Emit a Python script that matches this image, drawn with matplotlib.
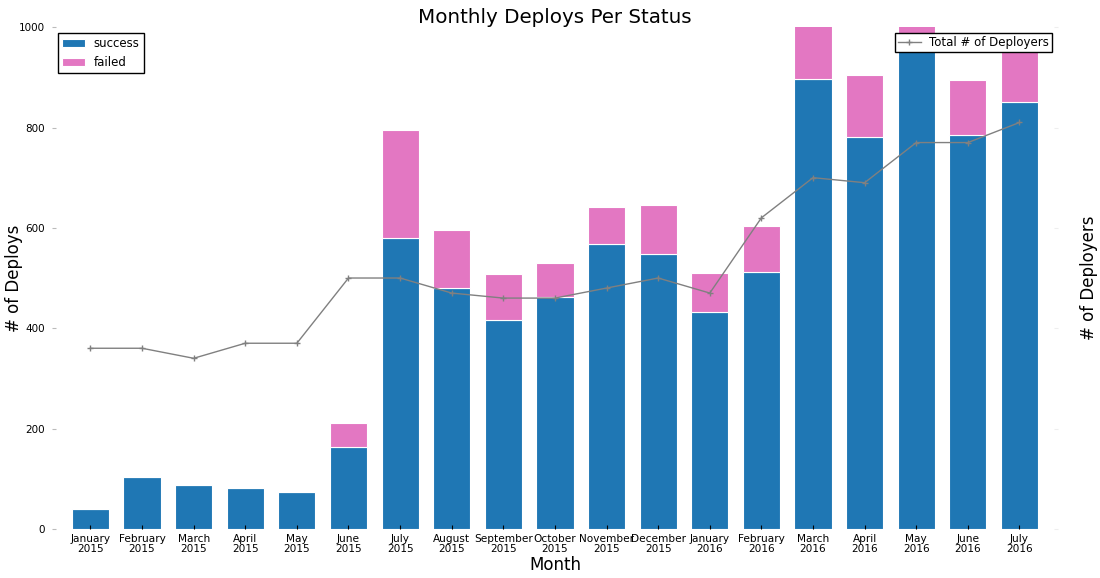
import matplotlib
matplotlib.use("Agg")
import matplotlib.pyplot as plt
import numpy as np

MONTHS = ["January\n2015", "February\n2015", "March\n2015", "April\n2015", "May\n2015",
          "June\n2015", "July\n2015", "August\n2015", "September\n2015", "October\n2015",
          "November\n2015", "December\n2015", "January\n2016", "February\n2016",
          "March\n2016", "April\n2016", "May\n2016", "June\n2016", "July\n2016"]
SUCCESS = [40, 104, 88, 82, 74, 163, 580, 481, 416, 462, 568, 548, 432, 512,
           897, 781, 980, 786, 850]
FAILED = [0, 0, 0, 0, 0, 48, 215, 115, 92, 68, 73, 97, 78, 92,
          150, 123, 120, 108, 120]
DEPLOYERS = [360, 360, 340, 370, 370, 500, 500, 470, 460, 460, 480, 500, 470, 620,
             700, 690, 770, 770, 810]


def main():
    fig = plt.figure(figsize=(11, 5.78), dpi=100)
    ax = fig.add_axes([0.047, 0.085, 0.915, 0.868])
    x = np.arange(len(MONTHS))

    ax.bar(x, SUCCESS, width=0.72, color="#1f77b4", edgecolor="white", linewidth=0.8, label="success")
    ax.bar(x, FAILED, width=0.72, bottom=SUCCESS, color="#e377c2", edgecolor="white", linewidth=0.8, label="failed")

    ax.set_xlim(-0.75, 18.75)
    ax.set_ylim(0, 1000)
    ax.set_xticks(x)
    ax.set_xticklabels(MONTHS, fontsize=7.6, linespacing=1.0)
    ax.set_yticks([0, 200, 400, 600, 800, 1000])
    ax.tick_params(axis="y", labelsize=7.5, direction="in", length=3, color="#bbbbbb", pad=5)
    ax.tick_params(axis="x", direction="in", length=3, pad=4)
    for s in ax.spines.values():
        s.set_visible(False)
    ax.set_ylabel("# of Deploys", fontsize=12)
    ax.yaxis.set_label_coords(-0.029, 0.5)
    ax.set_xlabel("Month", fontsize=12, labelpad=1)
    ax.set_title("Monthly Deploys Per Status", fontsize=14.3, pad=2)
    leg = ax.legend(loc="upper left", fontsize=8.5, fancybox=False, framealpha=1,
                    borderpad=0.35, handlelength=2.0, handletextpad=0.7)
    leg.get_frame().set_edgecolor("black")

    ax2 = ax.twinx()
    ax2.plot(x, DEPLOYERS, color="grey", linewidth=1, marker="+", markersize=5,
             label="Total # of Deployers")
    ax2.set_ylim(0, 1000)
    ax2.set_yticks([0, 200, 400, 600, 800, 1000])
    ax2.tick_params(axis="y", direction="in", length=3, color="#eeeeee", labelright=False)
    for s in ax2.spines.values():
        s.set_visible(False)
    ax2.set_ylabel("# of Deployers", fontsize=12, labelpad=16)
    leg2 = ax2.legend(loc="upper right", fontsize=8.5, fancybox=False, framealpha=1,
                      borderpad=0.25, handlelength=2.0, handletextpad=0.7)
    leg2.get_frame().set_edgecolor("black")

    fig.savefig("out.png", dpi=100)


if __name__ == "__main__":
    main()
